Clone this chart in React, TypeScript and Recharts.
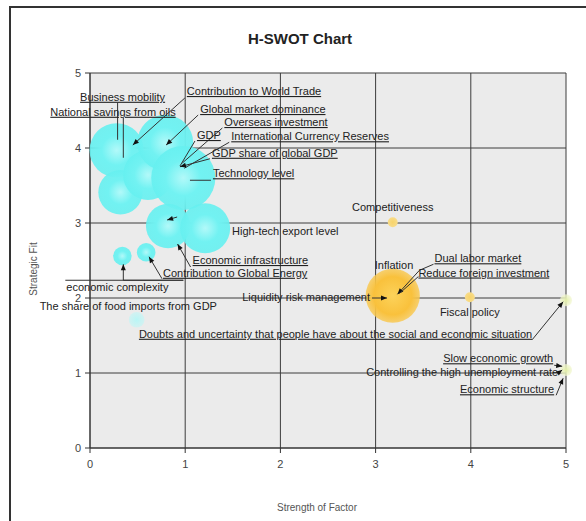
import React from 'react';
import { ScatterChart, Scatter, XAxis, YAxis, ZAxis, CartesianGrid } from 'recharts';

const xTicks = [0, 1, 2, 3, 4, 5];
const yTicks = [0, 1, 2, 3, 4, 5];

// x = strength of factor, y = strategic fit, z = weight (bubble size)
const strengthBubbles = [
	{ x: 0.28, y: 3.97, z: 60 },
	{ x: 0.32, y: 3.41, z: 40 },
	{ x: 0.61, y: 3.64, z: 51 },
	{ x: 0.79, y: 4.07, z: 64 },
	{ x: 0.98, y: 3.6, z: 84 },
	{ x: 0.82, y: 2.96, z: 40 },
	{ x: 1.21, y: 2.93, z: 51 },
	{ x: 0.34, y: 2.56, z: 7 },
	{ x: 0.59, y: 2.61, z: 7 },
];

const faintBubbles = [{ x: 0.49, y: 1.71, z: 5 }];

const inflationBubble = [{ x: 3.18, y: 2.03, z: 60 }];

const smallThreats = [
	{ x: 3.18, y: 3.01, z: 2 },
	{ x: 3.99, y: 2.01, z: 2 },
];

const edgeThreats = [
	{ x: 5.0, y: 1.97, z: 3 },
	{ x: 5.0, y: 1.04, z: 3 },
];

const factors = [
	{ name: 'Business mobility', x: 0.29, y: 4.11 },
	{ name: 'National savings from oils', x: 0.35, y: 3.87 },
	{ name: 'Contribution to World Trade', x: 0.45, y: 4.04 },
	{ name: 'Global market dominance', x: 0.8, y: 4.04 },
	{ name: 'Overseas investment', x: 0.97, y: 3.8 },
	{ name: 'GDP', x: 0.945, y: 3.76 },
	{ name: 'International Currency Reserves', x: 0.99, y: 3.73 },
	{ name: 'GDP share of global GDP', x: 0.945, y: 3.75 },
	{ name: 'Technology level', x: 1.05, y: 3.57 },
	{ name: 'High-tech export level', x: 0.81, y: 3.04 },
	{ name: 'Economic infrastructure', x: 0.92, y: 2.72 },
	{ name: 'Contribution to Global Energy', x: 0.62, y: 2.55 },
	{ name: 'economic complexity', x: 0.35, y: 2.45 },
	{ name: 'The share of food imports from GDP', x: 0.49, y: 1.71 },
	{ name: 'Liquidity risk management', x: 3.12, y: 2.0 },
	{ name: 'Inflation', x: 3.18, y: 2.03 },
	{ name: 'Dual labor market', x: 3.23, y: 2.05 },
	{ name: 'Reduce foreign investment', x: 3.25, y: 2.06 },
	{ name: 'Competitiveness', x: 3.18, y: 3.01 },
	{ name: 'Fiscal policy', x: 3.99, y: 2.01 },
	{ name: 'Doubts and uncertainty that people have about the social and economic situation', x: 4.97, y: 1.95 },
	{ name: 'Slow economic growth', x: 4.96, y: 1.09 },
	{ name: 'Controlling the high unemployment rate', x: 4.96, y: 1.04 },
	{ name: 'Economic structure', x: 4.97, y: 0.93 },
];

// label placement (pixel offsets from the point), leader lines, arrows
type LabelLayout = {
	dx: number;
	dy: number;
	anchor: 'start' | 'middle' | 'end';
	line?: [number, number][];
	arrow?: boolean;
	underline?: boolean;
};

const labelLayout: Record<string, LabelLayout> = {
	'Business mobility': { dx: 5, dy: -39, anchor: 'middle', line: [[0, 0], [0, -37]], underline: true },
	'National savings from oils': { dx: -73, dy: -42, anchor: 'start', line: [[0, 0], [0, -40]], underline: true },
	'Contribution to World Trade': { dx: 54, dy: -50, anchor: 'start', line: [[0, 0], [52, -47]], arrow: true, underline: true },
	'Global market dominance': { dx: 34, dy: -32, anchor: 'start', line: [[0, 0], [32, -30]], arrow: true, underline: true },
	'Overseas investment': { dx: 42, dy: -37, anchor: 'start', line: [[0, 0], [40, -35]], underline: true },
	GDP: { dx: 17, dy: -27, anchor: 'start', line: [[0, 0], [15, -25]], underline: true },
	'International Currency Reserves': { dx: 47, dy: -28, anchor: 'start', line: [[0, 0], [45, -26]], underline: true },
	'GDP share of global GDP': { dx: 32, dy: -10, anchor: 'start', line: [[0, 0], [30, -8]], arrow: true, underline: true },
	'Technology level': { dx: 23, dy: -3, anchor: 'start', line: [[0, 0], [21, 0]], underline: true },
	'High-tech export level': { dx: 65, dy: 15, anchor: 'start', line: [[0, 0], [10, -3]], arrow: true },
	'Economic infrastructure': { dx: 15, dy: 20, anchor: 'start', line: [[0, 0], [13, 23]], arrow: true, underline: true },
	'Contribution to Global Energy': { dx: 14, dy: 20, anchor: 'start', line: [[0, 0], [13, 22]], arrow: true, underline: true },
	'economic complexity': { dx: -57, dy: 27, anchor: 'start', line: [[0, 0], [0, 16], [60, 16], [-58, 16]], arrow: true },
	'The share of food imports from GDP': { dx: -97, dy: -10, anchor: 'start' },
	'Liquidity risk management': { dx: -17, dy: 3, anchor: 'end', line: [[0, 0], [-15, 0]], arrow: true },
	Inflation: { dx: -18, dy: -27, anchor: 'start' },
	'Dual labor market': { dx: 37, dy: -32, anchor: 'start', line: [[0, 0], [22, -24], [36, -30]], arrow: true, underline: true },
	'Reduce foreign investment': { dx: 19, dy: -17, anchor: 'start', line: [[0, 0], [19, -17]], underline: true },
	Competitiveness: { dx: 0, dy: -11, anchor: 'middle' },
	'Fiscal policy': { dx: 0, dy: 19, anchor: 'middle' },
	'Doubts and uncertainty that people have about the social and economic situation': {
		dx: -31, dy: 36, anchor: 'end', line: [[0, 0], [-31, 38]], arrow: true, underline: true,
	},
	'Slow economic growth': { dx: -9, dy: -4, anchor: 'end', line: [[0, 0], [-8, -1]], arrow: true, underline: true },
	'Controlling the high unemployment rate': { dx: -4, dy: 6, anchor: 'end', line: [[0, 0], [-4, 3]], arrow: true },
	'Economic structure': { dx: -9, dy: 15, anchor: 'end', line: [[0, 0], [-7, 17]], arrow: true, underline: true },
};

const FONT = '"Liberation Sans", Arial, sans-serif';

function makeBubble(fillId: string) {
	return (props: any) => {
		const { cx, cy, width } = props;
		if (cx == null || cy == null) return <g />;
		const r = Math.max((width || 0) / 2, 1);
		return <circle cx={cx} cy={cy} r={r} fill={`url(#${fillId})`} />;
	};
}

function FactorLabel(props: any) {
	const { cx, cy, payload } = props;
	if (cx == null || cy == null || !payload) return <g />;
	const lay = labelLayout[payload.name];
	if (!lay) return <g />;
	const pts = lay.line || [];
	let arrow = null;
	if (lay.arrow && pts.length > 1) {
		const [ax, ay] = pts[1];
		const len = Math.hypot(ax, ay) || 1;
		const ux = ax / len;
		const uy = ay / len;
		const bx = cx + ux * 6;
		const by = cy + uy * 6;
		arrow = (
			<polygon
				points={`${cx},${cy} ${bx - uy * 2.5},${by + ux * 2.5} ${bx + uy * 2.5},${by - ux * 2.5}`}
				fill="#111"
			/>
		);
	}
	return (
		<g>
			{pts.length > 1 && (
				<polyline
					points={pts.map(([px, py]) => `${cx + px},${cy + py}`).join(' ')}
					fill="none"
					stroke="#333"
					strokeWidth={1}
				/>
			)}
			{arrow}
			<text
				x={cx + lay.dx}
				y={cy + lay.dy}
				textAnchor={lay.anchor}
				fontSize={11}
				fontFamily={FONT}
				fill="#222"
				textDecoration={lay.underline ? 'underline' : undefined}
			>
				{payload.name}
			</text>
		</g>
	);
}

export default function App() {
	return (
		<div
			style={{
				position: 'absolute',
				top: 6,
				left: 9,
				width: 577,
				height: 515,
				borderLeft: '2px solid #333',
				fontFamily: FONT,
				background: '#fff',
				overflow: 'hidden',
			}}
		>
			{/* top frame edge */}
			<div style={{ position: 'absolute', left: 0, top: 0, width: 577, height: 2, background: '#333' }} />
			<div
				style={{
					position: 'absolute',
					left: 0,
					top: 24,
					width: 578,
					textAlign: 'center',
					fontSize: 15,
					fontWeight: 'bold',
					color: '#222',
				}}
			>
				H-SWOT Chart
			</div>
			<div
				style={{
					position: 'absolute',
					left: 306,
					top: 496,
					transform: 'translateX(-50%)',
					fontSize: 10,
					color: '#555',
					whiteSpace: 'nowrap',
				}}
			>
				Strength of Factor
			</div>
			<div
				style={{
					position: 'absolute',
					left: 22,
					top: 263,
					transform: 'translate(-50%, -50%) rotate(-90deg)',
					fontSize: 10,
					color: '#555',
					whiteSpace: 'nowrap',
				}}
			>
				Strategic Fit
			</div>
			<div style={{ position: 'absolute', left: 0, top: 2 }}>
				<ScatterChart width={575} height={513} margin={{ top: 65, right: 20, left: 0, bottom: 0 }}>
					<defs>
						<radialGradient id="cyanFill" cx="50%" cy="50%" r="50%">
							<stop offset="0%" stopColor="#b2f9f9" />
							<stop offset="55%" stopColor="#72f2f2" />
							<stop offset="100%" stopColor="#66f0f0" stopOpacity={0.9} />
						</radialGradient>
						<radialGradient id="faintFill" cx="50%" cy="50%" r="50%">
							<stop offset="0%" stopColor="#b8f6f6" />
							<stop offset="100%" stopColor="#c8f4f4" stopOpacity={0.7} />
						</radialGradient>
						<radialGradient id="orangeFill" cx="50%" cy="50%" r="50%">
							<stop offset="0%" stopColor="#fcd25a" />
							<stop offset="70%" stopColor="#f9c13c" />
							<stop offset="100%" stopColor="#f9c84f" stopOpacity={0.8} />
						</radialGradient>
						<radialGradient id="yellowFill" cx="50%" cy="50%" r="50%">
							<stop offset="0%" stopColor="#f7d36a" />
							<stop offset="100%" stopColor="#f8dc8a" />
						</radialGradient>
						<radialGradient id="paleFill" cx="50%" cy="50%" r="50%">
							<stop offset="0%" stopColor="#e4f0a8" />
							<stop offset="100%" stopColor="#f2f7d2" stopOpacity={0.7} />
						</radialGradient>
					</defs>
					<CartesianGrid stroke="#3c3c3c" fill="#ebebeb" fillOpacity={1} />
					<XAxis
						type="number"
						dataKey="x"
						domain={[0, 5]}
						ticks={xTicks}
						interval={0}
						height={73}
						tickSize={5}
						tickMargin={7}
						stroke="#333"
						tick={{ fill: '#444', fontSize: 11 }}
					/>
					<YAxis
						type="number"
						dataKey="y"
						domain={[0, 5]}
						ticks={yTicks}
						interval={0}
						width={79}
						tickSize={5}
						tickMargin={4}
						stroke="#333"
						tick={{ fill: '#444', fontSize: 11 }}
					/>
					<ZAxis type="number" dataKey="z" domain={[0, 100]} range={[0, 3848]} />
					<Scatter data={strengthBubbles} shape={makeBubble('cyanFill')} isAnimationActive={false} />
					<Scatter data={faintBubbles} shape={makeBubble('faintFill')} isAnimationActive={false} />
					<Scatter data={inflationBubble} shape={makeBubble('orangeFill')} isAnimationActive={false} />
					<Scatter data={smallThreats} shape={makeBubble('yellowFill')} isAnimationActive={false} />
					<Scatter data={edgeThreats} shape={makeBubble('paleFill')} isAnimationActive={false} />
					<Scatter data={factors} shape={FactorLabel} isAnimationActive={false} />
				</ScatterChart>
			</div>
		</div>
	);
}
